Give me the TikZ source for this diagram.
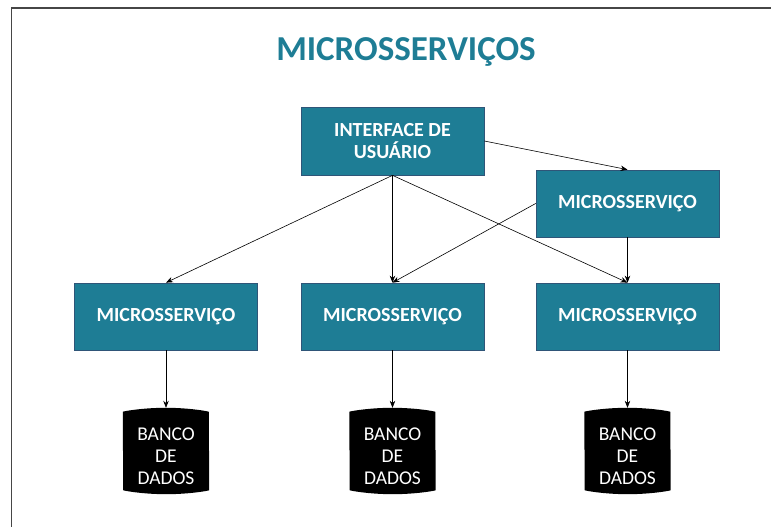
\documentclass[tikz,border=0pt]{standalone}
\usepackage{fontspec}
\setmainfont{Carlito}
\usetikzlibrary{arrows.meta,backgrounds}
\definecolor{teal1}{RGB}{30,125,149}
\definecolor{tealborder}{RGB}{47,85,120}
\definecolor{frame}{RGB}{70,70,70}
\begin{document}
\begin{tikzpicture}[x=1pt,y=1pt,
  msbox/.style={rectangle,fill=teal1,draw=tealborder,line width=0.7pt,minimum width=183pt,minimum height=67pt,
    text=white,font=\fontsize{20}{22}\selectfont\bfseries,align=center,inner sep=0pt},
  dbnode/.style={rectangle,minimum width=86pt,minimum height=86pt,inner sep=0pt,text=white,
    font=\fontsize{19.5}{22}\selectfont},
  conn/.style={draw=black,line width=0.6pt,-{Stealth[length=7pt,width=5.5pt]}}]
\useasboundingbox (0,0) rectangle (771,527);
\draw[frame,line width=1.4pt] (11.5,0) -- (11.5,519) -- (771,519);
\node[text=teal1,font=\fontsize{35}{40}\selectfont\bfseries] (title) at (406,475) {MICROSSERVIÇOS};
\node[msbox,minimum height=68pt] (ui) at (392.5,386) {INTERFACE DE\\USUÁRIO};
\node[msbox] (mstop) at (627.5,323.5) {MICROSSERVIÇO};
\node[msbox] (ms1) at (166,210.5) {MICROSSERVIÇO};
\node[msbox] (ms2) at (392.5,210.5) {MICROSSERVIÇO};
\node[msbox] (ms3) at (627.5,210.5) {MICROSSERVIÇO};
\foreach \n/\x in {db1/166,db2/392.5,db3/627.5}{
  \node[dbnode] (\n) at (\x,76) {\raisebox{-12pt}[0pt][0pt]{\begin{tabular}{@{}c@{}}BANCO\\DE\\DADOS\end{tabular}}};
}
\begin{scope}[on background layer]
\foreach \d in {db1,db2,db3}{
  \fill[black,rounded corners=4pt] ([yshift=-8pt]\d.north west) arc[start angle=180,end angle=0,x radius=43pt,y radius=8pt]
    -- ([yshift=8pt]\d.south east) arc[start angle=0,end angle=-180,x radius=43pt,y radius=8pt] -- cycle;
}
\end{scope}
\draw[conn] (ui.east) -- (mstop.north);
\draw[conn] (ui.south) -- (ms1.north);
\draw[conn] (ui.south) -- (ms2.north);
\draw[conn] (ui.south) -- (ms3.north);
\draw[conn] (mstop.west) -- (ms2.north);
\draw[conn] (mstop.south) -- (ms3.north);
\draw[conn] (ms1.south) -- (db1.north);
\draw[conn] (ms2.south) -- (db2.north);
\draw[conn] (ms3.south) -- (db3.north);
\end{tikzpicture}
\end{document}
